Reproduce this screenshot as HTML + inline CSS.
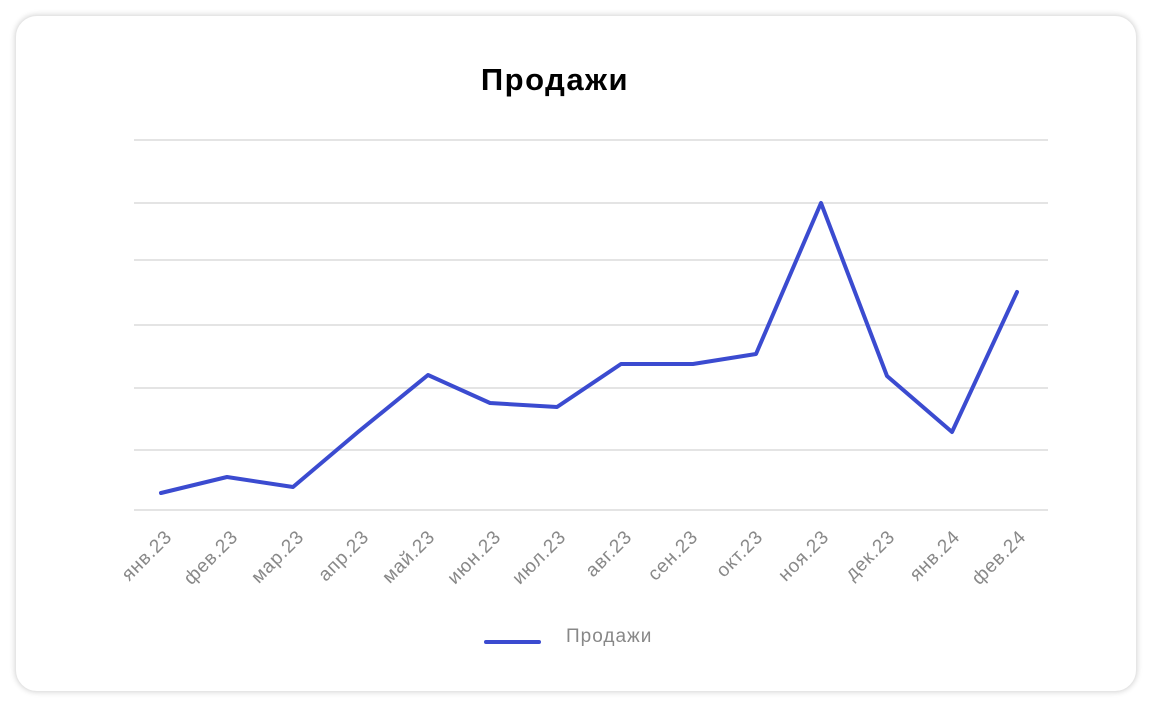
<!DOCTYPE html>
<html><head><meta charset="utf-8"><style>
html,body{margin:0;padding:0;background:#fff;width:1152px;height:707px;overflow:hidden}
.card{position:absolute;left:15px;top:15px;width:1122px;height:677px;border-radius:22px;background:#fff;box-shadow:0 0 6px rgba(0,0,0,0.18);border:1px solid #e6e6e6;box-sizing:border-box}
svg{position:absolute;left:0;top:0}
</style></head><body>
<div class="card"></div>
<svg width="1152" height="707" font-family="'Liberation Sans', sans-serif">
<text x="555" y="90" text-anchor="middle" font-size="31" font-weight="bold" letter-spacing="1.5" fill="#000">Продажи</text>
<g stroke="#e4e4e4" stroke-width="2">
<line x1="134" x2="1048" y1="140" y2="140"/><line x1="134" x2="1048" y1="203" y2="203"/>
<line x1="134" x2="1048" y1="260" y2="260"/><line x1="134" x2="1048" y1="325" y2="325"/>
<line x1="134" x2="1048" y1="388" y2="388"/><line x1="134" x2="1048" y1="450" y2="450"/>
<line x1="134" x2="1048" y1="510" y2="510"/>
</g>
<polyline fill="none" stroke="#3b4bd0" stroke-width="4" stroke-linejoin="round" stroke-linecap="round" points="161,493 227,477 293,487 358,432 428,375 490,403 557,407 621,364 693,364 756,354 821,203 887,376 952,432 1017,292"/>
<g font-size="19" fill="#888" text-anchor="end" letter-spacing="0.8">
<text transform="translate(173,538) rotate(-45)">янв.23</text>
<text transform="translate(239,538) rotate(-45)">фев.23</text>
<text transform="translate(305,538) rotate(-45)">мар.23</text>
<text transform="translate(370,538) rotate(-45)">апр.23</text>
<text transform="translate(436,538) rotate(-45)">май.23</text>
<text transform="translate(502,538) rotate(-45)">июн.23</text>
<text transform="translate(567,538) rotate(-45)">июл.23</text>
<text transform="translate(633,538) rotate(-45)">авг.23</text>
<text transform="translate(699,538) rotate(-45)">сен.23</text>
<text transform="translate(764,538) rotate(-45)">окт.23</text>
<text transform="translate(830,538) rotate(-45)">ноя.23</text>
<text transform="translate(896,538) rotate(-45)">дек.23</text>
<text transform="translate(961,538) rotate(-45)">янв.24</text>
<text transform="translate(1027,538) rotate(-45)">фев.24</text>
</g>
<line x1="486" x2="539" y1="642" y2="642" stroke="#3b4bd0" stroke-width="4" stroke-linecap="round"/>
<text x="566" y="642" font-size="19" letter-spacing="1" fill="#888">Продажи</text>
</svg>
</body></html>
